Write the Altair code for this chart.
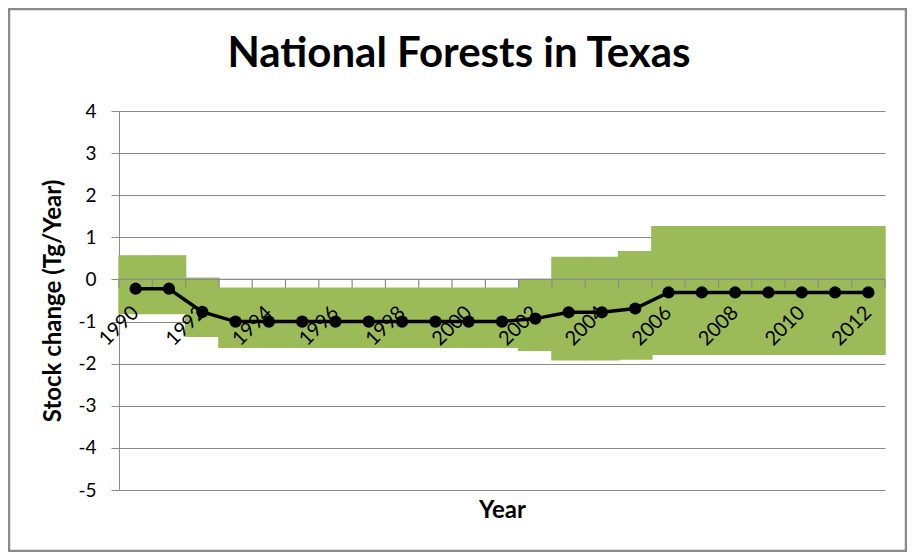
import altair as alt
import pandas as pd

years = list(range(1990, 2013))
stock_change = [-0.22, -0.22, -0.77, -1.0, -1.0, -1.0, -1.0, -1.0, -1.0, -1.0, -1.0, -1.0,
                -0.93, -0.78, -0.78, -0.69, -0.31, -0.31, -0.31, -0.31, -0.31, -0.31, -0.31]
upper = [0.56, 0.56, 0.03] + [-0.21] * 9 + [0.0, 0.52, 0.52, 0.66] + [1.25] * 7
lower = [-0.81, -0.81, -1.35] + [-1.61] * 9 + [-1.68, -1.91, -1.91, -1.89] + [-1.78] * 7
y_ticks = list(range(-5, 5))

W, H = 766, 379
GREY = "#8a8a8a"
GREEN = "#9BBB59"
FONT = "Lato"

df = pd.DataFrame({"year": years, "value": stock_change, "hi": upper, "lo": lower})
zero_df = pd.DataFrame({"z": [0]})
frame_df = pd.DataFrame({"a": [0]})

xs = alt.Scale(paddingInner=0, paddingOuter=0)
ys = alt.Scale(domain=[-5, 4], nice=False, zero=False)

border = alt.Chart(frame_df).mark_rect(filled=False, stroke=GREY, strokeWidth=2.5).encode(
    x=alt.value(-110), x2=alt.value(W + 21), y=alt.value(-102), y2=alt.value(H + 61)
)

bars = alt.Chart(df).mark_bar(color=GREEN, stroke=GREEN, strokeWidth=1.4).encode(
    x=alt.X("year:O", scale=xs,
            axis=alt.Axis(labels=False, ticks=False, domain=False, grid=False, title="Year",
                          titleFont=FONT, titleFontSize=24, titleFontWeight="bold",
                          titleColor="black", titleY=27, titleBaseline="alphabetic")),
    y=alt.Y("lo:Q", scale=ys,
            axis=alt.Axis(values=y_ticks, grid=True, gridColor=GREY, domainColor=GREY,
                          tickColor=GREY, tickSize=8, labelFont=FONT, labelFontSize=19,
                          labelColor="black", labelPadding=15,
                          labelExpr="datum.value + ''",
                          title="Stock change (Tg/Year)", titleFont=FONT, titleFontSize=24,
                          titleFontWeight="bold", titleColor="black", titleX=-66, titleY=H / 2,
                          titleAngle=270, titleBaseline="middle", titleAlign="center")),
    y2="hi:Q",
)

zero_line = alt.Chart(zero_df).mark_rule(color=GREY, strokeWidth=1.2).encode(
    y=alt.Y("z:Q")
)

ticks_left = alt.Chart(df).mark_rule(color=GREY, strokeWidth=1.2).encode(
    x=alt.X("year:O", bandPosition=0),
    y=alt.datum(0),
    y2=alt.datum(-0.19),
)
ticks_right = alt.Chart(df).transform_filter("datum.year == 2012").mark_rule(
    color=GREY, strokeWidth=1.2).encode(
    x=alt.X("year:O", bandPosition=1),
    y=alt.datum(0),
    y2=alt.datum(-0.19),
)

labels = alt.Chart(df).transform_filter("datum.year % 2 == 0").mark_text(
    angle=315, align="right", baseline="middle", font=FONT, fontSize=20, color="black"
).encode(
    x=alt.X("year:O"),
    y=alt.datum(-0.72),
    text="year:O",
)

line = alt.Chart(df).mark_line(color="black", strokeWidth=3.5).encode(
    x=alt.X("year:O"),
    y=alt.Y("value:Q"),
)
points = alt.Chart(df).mark_circle(size=150, color="black", opacity=1).encode(
    x=alt.X("year:O"),
    y=alt.Y("value:Q"),
)

chart = alt.layer(border, bars, zero_line, ticks_left, ticks_right, labels, line, points).properties(
    width=W,
    height=H,
    background="white",
    autosize=alt.AutoSizeParams(type="none"),
    padding={"left": 111, "top": 103, "right": 22, "bottom": 62},
    title=alt.TitleParams(
        "National Forests in Texas", font=FONT, fontSize=42, fontWeight="bold",
        color="black", anchor="middle", frame="group", dx=-43, offset=37, dy=138,
        baseline="alphabetic",
    ),
).configure_view(stroke=None)

chart.save("out.html", embed_options={"renderer": "svg", "actions": False})
